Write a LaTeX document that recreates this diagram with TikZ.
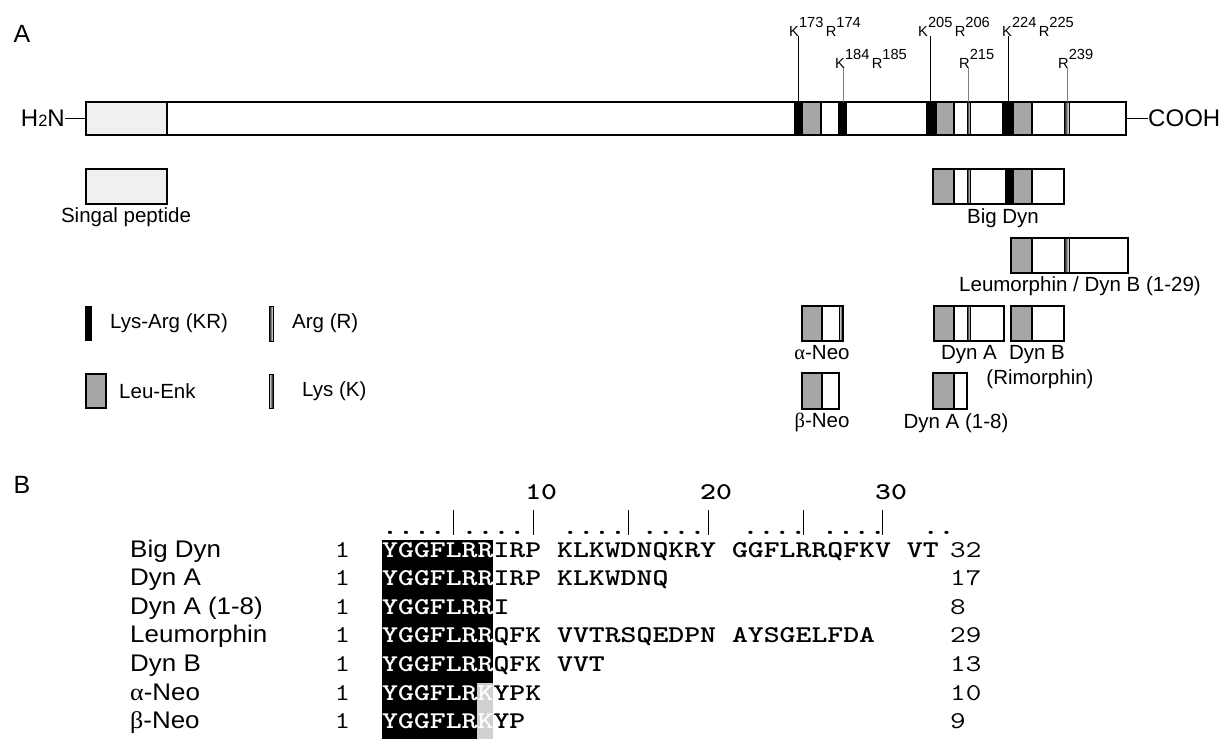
\documentclass[tikz,border=0pt]{standalone}
\usepackage{fontspec}
\setmainfont{Liberation Sans}
\newfontfamily\greekfont{Liberation Serif}
\newfontfamily\seqfont{lmmonolt10-bold}[Extension=.otf]
\usepackage{graphicx}
\usepackage{tikz}

\newcommand\resno[2]{#1\raisebox{0.55em}{#2}}
\newcommand\wide[2]{\scalebox{#1}[1]{#2}}
\def\sqx{1.261}

\tikzset{
  dyn/panel/.style={font=\fontsize{21.3pt}{24pt}\selectfont, inner sep=0pt},
  dyn/label/.style={font=\fontsize{17.5pt}{20pt}\selectfont, inner sep=0pt},
  dyn/term/.style={font=\fontsize{20.5pt}{22pt}\selectfont, inner sep=0pt},
  dyn/site/.style={font=\fontsize{12.5pt}{13pt}\selectfont, inner sep=0pt,
    anchor=base west},
  dyn/seqname/.style={font=\fontsize{20.5pt}{22pt}\selectfont, inner sep=0pt,
    anchor=base west},
  dyn/seqtext/.style={font=\fontsize{20.5pt}{22pt}\selectfont, inner sep=0pt,
    anchor=base west},
}

% one precursor / product box with its segments
\newcommand\probox[5]{%
  \path[pbody] (#3,#1) rectangle (#4,#2);
  \foreach \a/\b/\s in {#5} {\path[\s] (\a,#1) rectangle (\b,#2);}
  \draw[pline] (#3,#1) rectangle (#4,#2);
}

\begin{document}
\begin{tikzpicture}[x=0.03cm, y=-0.03cm,
  pbody/.style={fill=white},
  pline/.style={draw, line width=1.1pt},
  sigpep/.style={fill=black!6, draw, line width=1.1pt},
  enk/.style={fill=black!35, draw, line width=0.9pt},
  kr/.style={fill=black},
  argmark/.style={left color=black, right color=white, draw, line width=0.6pt},
  lysmark/.style={left color=white, right color=black, draw, line width=0.6pt},
  major/.style={draw, line width=0.8pt, black},
  minor/.style={draw, line width=0.8pt, black!50},
  term/.style={draw, line width=1.2pt},
  rulerbar/.style={draw, line width=0.7pt},
]
\path[use as bounding box, fill=white] (0,0) rectangle (1223,742);

% ── Panel A: precursor ───────────────────────────────────
\node[dyn/panel] (pa) at (22,34) {A};

\probox{102}{135}{86}{1126}{86/167/sigpep, 794/802/kr, 802/821/enk,
  838/847/kr, 926/936/kr, 936/954/enk, 967/970/argmark, 1002/1013/kr,
  1013/1032/enk, 1064/1069/argmark}
\coordinate (barW) at (86,118.5);
\coordinate (barE) at (1126,118.5);

\node[dyn/term, anchor=base east] (h2n) at (65,126)
  {H{\fontsize{14pt}{14pt}\selectfont 2}N};
\node[dyn/term, anchor=base west] (cooh) at (1148,126) {COOH};
\draw[term] (barW) -- (barW -| h2n.east);
\draw[term] (barE) -- (barE -| cooh.west);

% cleavage sites
\coordinate (s173) at (798,102);
\coordinate (s184) at (843,102);
\coordinate (s205) at (930,102);
\coordinate (s215) at (968,102);
\coordinate (s224) at (1008,102);
\coordinate (s239) at (1067,102);

\node[dyn/site] (l173) at (789,36) {\resno{K}{173}\,\resno{R}{174}};
\node[dyn/site] (l184) at (835,68) {\resno{K}{184}\,\resno{R}{185}};
\node[dyn/site] (l205) at (918,36) {\resno{K}{205}\,\resno{R}{206}};
\node[dyn/site] (l215) at (959,68) {\resno{R}{215}};
\node[dyn/site] (l224) at (1002,36) {\resno{K}{224}\,\resno{R}{225}};
\node[dyn/site] (l239) at (1058,68) {\resno{R}{239}};

\draw[major] (s173) -- (s173 |- l173.base);
\draw[minor] (s184) -- (s184 |- l184.base);
\draw[major] (s205) -- (s205 |- l205.base);
\draw[minor] (s215) -- (s215 |- l215.base);
\draw[major] (s224) -- (s224 |- l224.base);
\draw[minor] (s239) -- (s239 |- l239.base);

% ── Panel A: products ────────────────────────────────────
\probox{169}{204}{86}{167}{86/167/sigpep}
\node[dyn/label, anchor=north] (tsig) at (126,207) {Singal peptide};

\probox{169}{204}{933}{1064}{933/954/enk, 967/970/argmark, 1005/1013/kr,
  1013/1032/enk}
\node[dyn/label, anchor=north] (tbig) at (1003,208) {Big Dyn};

\probox{238}{273}{1011}{1128}{1011/1032/enk, 1064/1069/argmark}
\node[dyn/label, anchor=north] (tleu) at (1080,276)
  {Leumorphin / Dyn B (1-29)};

\probox{306}{341}{802}{843}{802/822/enk, 839/843/lysmark}
\node[dyn/label, anchor=north] (tan) at (822,345) {{\greekfont α}-Neo};

\probox{306}{341}{934}{1004}{934/954/enk, 967/970/argmark}
\node[dyn/label, anchor=north] (tda) at (969,345) {Dyn A};

\probox{306}{341}{1011}{1064}{1011/1032/enk}
\node[dyn/label, anchor=north] (tdb) at (1037,345) {Dyn B};
\node[dyn/label, anchor=north] (trim) at (1040,369) {(Rimorphin)};

\probox{373}{409}{802}{839}{802/822/enk}
\node[dyn/label, anchor=north] (tbn) at (822,413) {{\greekfont β}-Neo};

\probox{373}{409}{933}{967}{933/954/enk}
\node[dyn/label, anchor=north] (tda8) at (956,413) {Dyn A (1-8)};

% legend
\path[kr] (85,306) rectangle (92,341);
\node[dyn/label, anchor=west] (lkr) at (110,323) {Lys-Arg (KR)};
\path[argmark] (269,306) rectangle (273,341);
\node[dyn/label, anchor=west] (lr) at (292,323) {Arg (R)};
\path[enk] (86,374) rectangle (106,408);
\node[dyn/label, anchor=west] (lenk) at (119,391) {Leu-Enk};
\path[lysmark] (269,374) rectangle (273,408);
\node[dyn/label, anchor=west] (lk) at (302,391) {Lys (K)};

% ── Panel B: alignment ───────────────────────────────────
\node[dyn/panel] (pb) at (22,485) {B};

% conserved block
\fill[black] (382,540) rectangle (493.3,683);
\fill[black] (382,683) rectangle (477.4,739);
\fill[black!18] (477.4,683) rectangle (493.3,739);

\foreach \n/\c in {10/9, 20/20, 30/31}
  \node[dyn/seqtext] (tick\n) at (382+15.9*\c,499) {\wide{\sqx}{\seqfont\n}};
\node[dyn/seqtext] (ruler) at (382,534)
  {\wide{\sqx}{\seqfont ....~....~ ....~....~ ....~....~ ..}};
\foreach \c in {4, 9, 15, 20, 26, 31}
  \draw[rulerbar] (390+15.9*\c,510) -- ++(0,25);

\foreach \nm/\sq/\len [count=\i from 0] in {
  Big Dyn/{\color{white}YGGFLRR}IRP KLKWDNQKRY GGFLRRQFKV VT/32,
  Dyn A/{\color{white}YGGFLRR}IRP KLKWDNQ/17,
  Dyn A (1-8)/{\color{white}YGGFLRR}I/8,
  Leumorphin/{\color{white}YGGFLRR}QFK VVTRSQEDPN AYSGELFDA/29,
  Dyn B/{\color{white}YGGFLRR}QFK VVT/13,
  {\greekfont α}-Neo/{\color{white}YGGFLRK}YPK/10,
  {\greekfont β}-Neo/{\color{white}YGGFLRK}YP/9}
{
  \pgfmathsetmacro\yb{557+28.6*\i}
  \node[dyn/seqname] (nm\i) at (130,\yb) {\wide{1.08}{\nm}};
  \node[dyn/seqtext] (one\i) at (334.3,\yb) {\wide{\sqx}{\ttfamily 1}};
  \node[dyn/seqtext] (sq\i) at (382,\yb) {\wide{\sqx}{\seqfont\sq}};
  \node[dyn/seqtext] (len\i) at (950,\yb) {\wide{\sqx}{\ttfamily\len}};
}

\end{tikzpicture}
\end{document}
